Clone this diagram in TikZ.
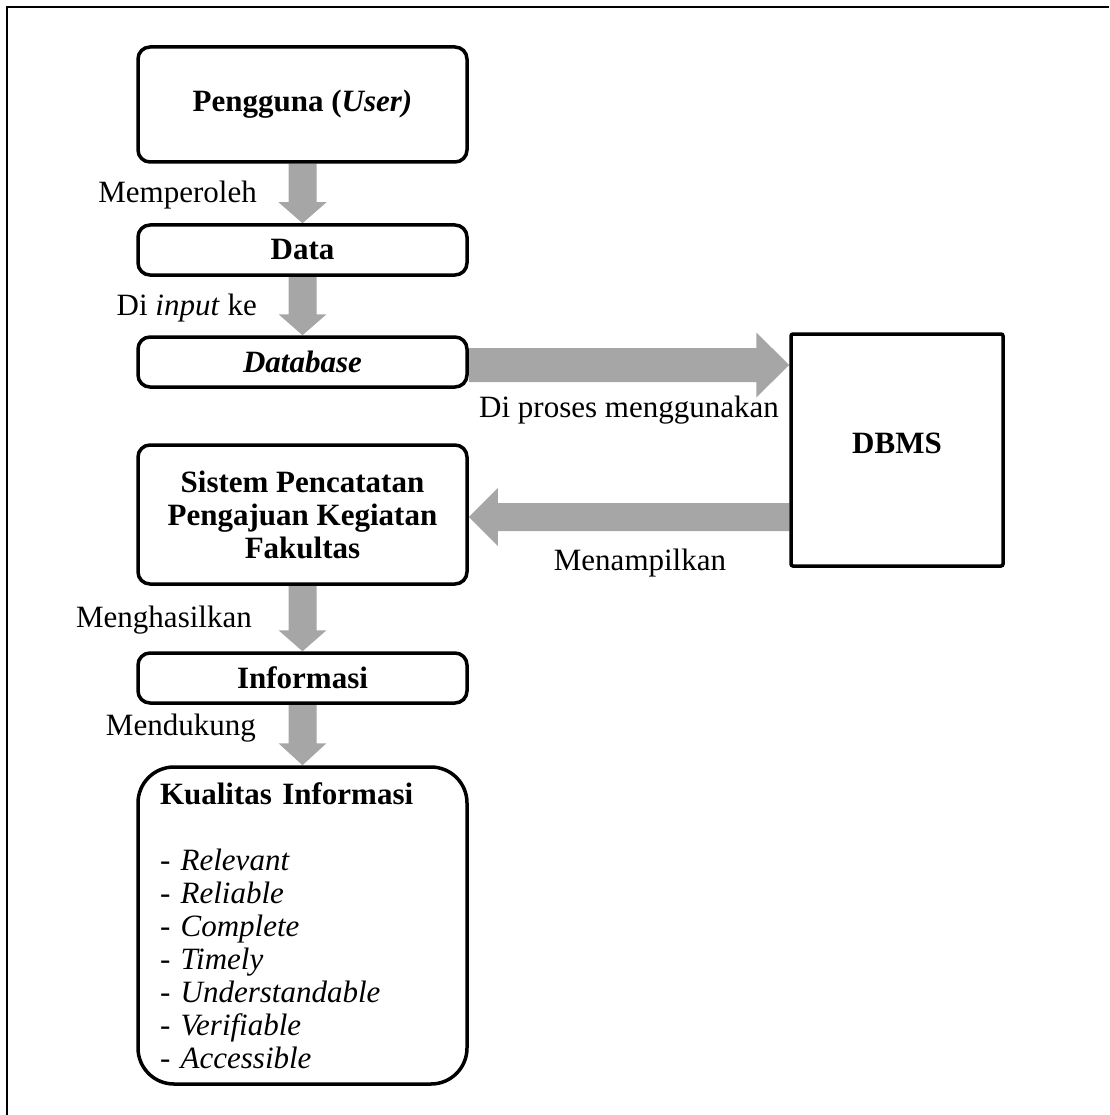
\documentclass[tikz,border=0pt]{standalone}
\usepackage{fontspec}
\setmainfont{Liberation Serif}
\usetikzlibrary{calc,backgrounds}
\definecolor{arrowgray}{RGB}{166,166,166}
\newcommand\fatarr[5]{%
  \path (#1) coordinate (fa-s) (#2) coordinate (fa-e);
  \path ($(fa-e)!#5!(fa-s)$) coordinate (fa-b);
  \fill[arrowgray] ($(fa-s)!#3!90:(fa-e)$) -- ($(fa-b)!#3!90:(fa-e)$) -- ($(fa-b)!#4!90:(fa-e)$) -- (fa-e) -- ($(fa-b)!#4!-90:(fa-e)$) -- ($(fa-b)!#3!-90:(fa-e)$) -- ($(fa-s)!#3!-90:(fa-e)$) -- cycle;}
\tikzset{
  box/.style={draw, line width=3.5pt, rounded corners=12pt, fill=white,
    minimum width=329pt, inner sep=0pt, align=center,
    font=\fontsize{31}{33}\selectfont\bfseries},
  lbl/.style={inner sep=0pt, font=\fontsize{31}{33}\selectfont},
}
\begin{document}
\begin{tikzpicture}[x=1pt,y=-1pt]
\useasboundingbox (0,0) rectangle (1109,1115);
\draw[line width=2pt] (7,1115) -- (7,7) -- (1109,7);

\node[box, minimum height=115pt] (user) at (302.5,104.5) {Pengguna (\textit{User)}};
\node[box, minimum height=50pt] (data) at (302.5,250) {Data};
\node[box, minimum height=50pt] (database) at (302.5,362) {\textit{Database}};
\node[box, minimum height=139pt] (sistem) at (302.5,514.5) {Sistem Pencatatan\\Pengajuan Kegiatan\\Fakultas};
\node[box, minimum height=50pt] (info) at (302.5,678) {Informasi};
\node[box, rounded corners=36pt, minimum height=317pt, text width=285pt, inner xsep=22pt, align=left, font=\fontsize{31}{33}\selectfont] (kual) at (302.5,925.5)
  {\textbf{Kualitas Informasi}\\[33pt]
   - \textit{Relevant}\\
   - \textit{Reliable}\\
   - \textit{Complete}\\
   - \textit{Timely}\\
   - \textit{Understandable}\\
   - \textit{Verifiable}\\
   - \textit{Accessible}};
\node[box, rounded corners=2pt, minimum width=212pt, minimum height=232pt,
  label={[font=\fontsize{31}{33}\selectfont\bfseries, yshift=7pt]center:DBMS}] (dbms) at (897,450) {};

\node[lbl, anchor=east] (l1) at (257,195) {Memperoleh};
\node[lbl, anchor=east] (l2) at (257,308) {Di \textit{input} ke};
\node[lbl, anchor=east] (l3) at (779,410) {Di proses menggunakan};
\node[lbl] (l4) at (640,563) {Menampilkan};
\node[lbl, anchor=east] (l5) at (252,620) {Menghasilkan};
\node[lbl, anchor=east] (l6) at (256,728) {Mendukung};

\coordinate (dbin) at ([yshift=-3pt]database.east);
\coordinate (sin) at ([yshift=-2.5pt]sistem.east);
\begin{pgfonlayer}{background}
\fatarr{user.south}{data.north}{14pt}{24pt}{21pt}
\fatarr{data.south}{database.north}{14pt}{24pt}{21pt}
\fatarr{sistem.south}{info.north}{14pt}{24pt}{21pt}
\fatarr{info.south}{kual.north}{14pt}{24pt}{22pt}
\fatarr{dbin}{dbms.west |- dbin}{17pt}{32.5pt}{33pt}
\fatarr{dbms.west |- sin}{sin}{14pt}{29pt}{29pt}
\end{pgfonlayer}
\end{tikzpicture}
\end{document}
